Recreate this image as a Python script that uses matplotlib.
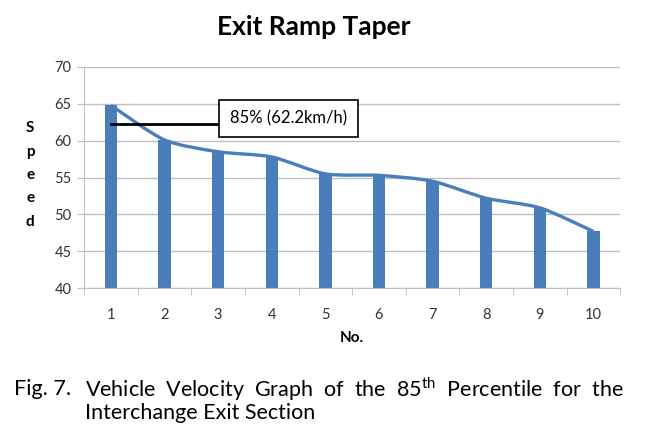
import matplotlib
matplotlib.use("Agg")
import matplotlib.pyplot as plt
from matplotlib.path import Path
from matplotlib.patches import PathPatch
import numpy as np

# values
nos = [1, 2, 3, 4, 5, 6, 7, 8, 9, 10]
speeds = [64.8, 60.1, 58.5, 57.8, 55.5, 55.3, 54.5, 52.2, 50.9, 47.7]
p85 = 62.3
p85_label = "85% (62.2km/h)"
title = "Exit Ramp Taper"
caption_line1 = r"Vehicle  Velocity  Graph  of  the  85$^{\mathrm{th}}$  Percentile  for  the"
caption_line2 = "Interchange Exit Section"

plt.rcParams["font.family"] = ["Lato", "DejaVu Sans"]
plt.rcParams["mathtext.fontset"] = "custom"
plt.rcParams["mathtext.rm"] = "Lato"

blue = "#4A7EBB"
grid_gray = "#BFBFBF"

fig = plt.figure(figsize=(6.57, 4.32), dpi=100)
ax = fig.add_axes([0.128, 0.333, 0.816, 0.512])

ax.bar(nos, [s - 40 for s in speeds], bottom=40, width=0.23, color=blue, zorder=2)

# smoothed line like the spreadsheet's (Catmull-Rom segments as cubic Beziers)
x = np.array(nos, dtype=float)
y = np.array(speeds)
verts = [(x[0], y[0])]
codes = [Path.MOVETO]
for i in range(len(x) - 1):
    x0, y0 = (x[i - 1], y[i - 1]) if i > 0 else (x[i], y[i])
    x3, y3 = (x[i + 2], y[i + 2]) if i + 2 < len(x) else (x[i + 1], y[i + 1])
    c1 = (x[i] + (x[i + 1] - x0) / 8, y[i] + (y[i + 1] - y0) / 8)
    c2 = (x[i + 1] - (x3 - x[i]) / 8, y[i + 1] - (y3 - y[i]) / 8)
    verts += [c1, c2, (x[i + 1], y[i + 1])]
    codes += [Path.CURVE4] * 3
ax.add_patch(PathPatch(Path(verts, codes), fc="none", ec=blue, lw=2.4, zorder=3))

ax.set_xlim(0.5, 10.5)
ax.set_ylim(40, 70)
ax.set_yticks(np.arange(40, 71, 5))
ax.set_xticks(nos)
ax.set_xticks(np.arange(0.5, 10.6, 1), minor=True)
ax.tick_params(axis="x", which="major", length=0, pad=14, labelsize=10.5, labelcolor="#333333")
ax.tick_params(axis="x", which="minor", length=5, color=grid_gray, direction="out")
ax.tick_params(axis="y", length=5, color=grid_gray, labelsize=10.5, pad=4, labelcolor="#333333")
ax.yaxis.grid(True, color=grid_gray, lw=1)
ax.set_axisbelow(True)
for side in ["top", "right"]:
    ax.spines[side].set_visible(False)
for side in ["left", "bottom"]:
    ax.spines[side].set_color(grid_gray)

# 85th percentile marker and label box
ax.plot([1, 3.04], [p85, p85], color="black", lw=2, zorder=4)
ax.text(3.22, 63.0, p85_label, fontsize=12, va="center", ha="left", zorder=5,
        bbox=dict(boxstyle="square,pad=0.65", fc="white", ec="black", lw=1.2))

fig.text(0.477, 0.937, title, fontsize=19, fontweight="bold", ha="center", va="center")
fig.text(0.046, 0.595, "S\np\ne\ne\nd", fontsize=11, fontweight="bold", ha="center",
         va="center", linespacing=1.85)
ax.set_xlabel("No.", fontsize=11, fontweight="bold", labelpad=7)

cap_font = ["Lato", "DejaVu Sans"]
fig.text(0.021, 0.100, "Fig. 7.", fontsize=15.5, family=cap_font, ha="left", va="center")
fig.text(0.129, 0.100, caption_line1, fontsize=15.5, family=cap_font, ha="left", va="center")
fig.text(0.129, 0.044, caption_line2, fontsize=15.5, family=cap_font, ha="left", va="center")

fig.savefig("out.png", dpi=100)
